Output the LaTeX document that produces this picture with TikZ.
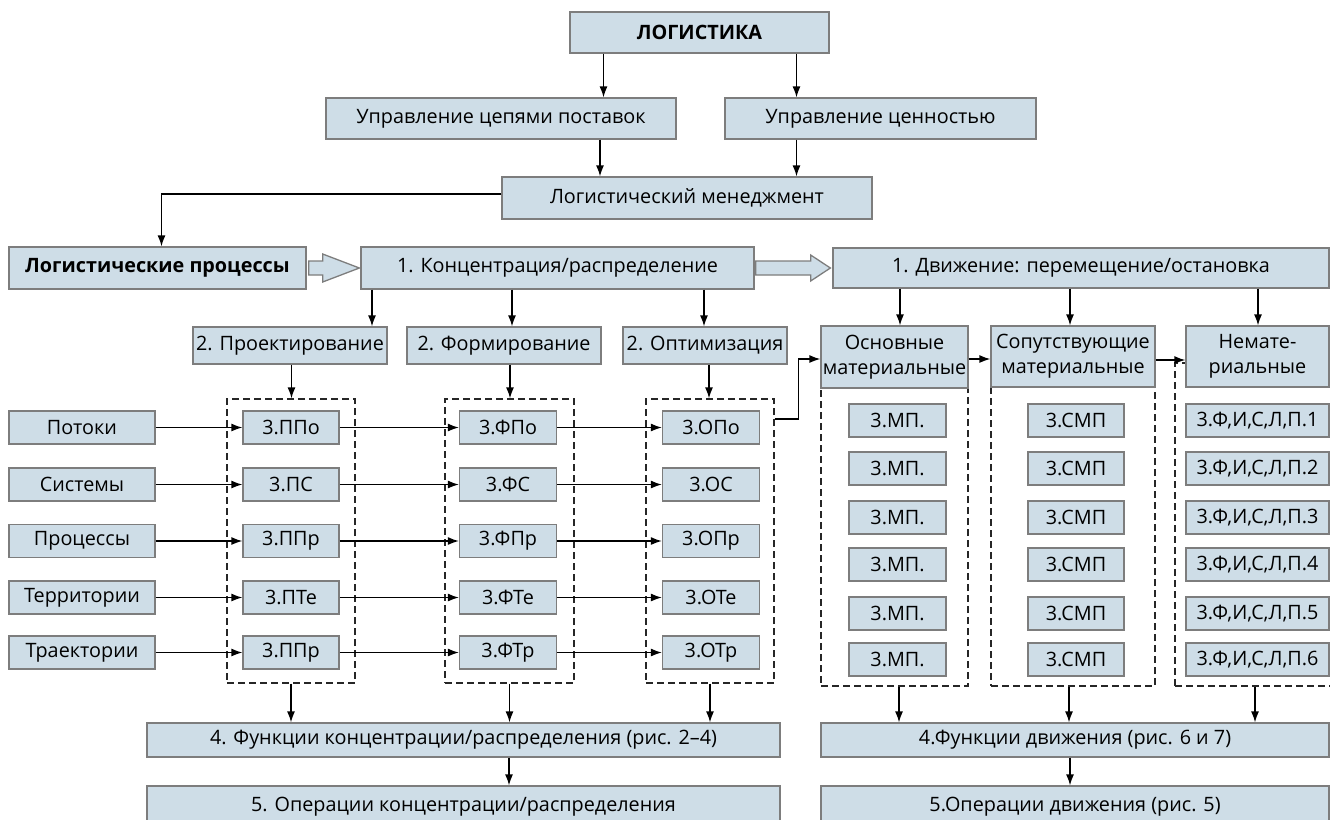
\documentclass[tikz,border=0pt]{standalone}
\usepackage{fontspec}
\setmainfont{Open Sans}
\usetikzlibrary{arrows.meta}
\definecolor{boxc}{RGB}{206,221,231}
\definecolor{bordc}{RGB}{125,125,125}
\tikzset{
  box/.style={draw=bordc, fill=boxc, line width=1.3pt, inner sep=0pt, text=black,
    font=\fontsize{19.8}{25}\selectfont, align=center},
  dbox/.style={draw=black!85, dash pattern=on 7pt off 4pt, line width=1.3pt, inner sep=0pt},
  arr/.style={draw=black, line width=1.3pt, -{Latex[length=11pt,width=8pt]}},
  blk/.style={draw=bordc, fill=boxc, line width=1.3pt, line join=miter},
}
\begin{document}
\begin{tikzpicture}[x=1pt,y=-1pt]
\clip (0,0) rectangle (1330,819);
\fill[white] (0,0) rectangle (1330,819);
% dashed groups
\node[dbox, minimum width=128, minimum height=284] (d1) at (291,541) {};
\node[dbox, minimum width=129, minimum height=284] (d2) at (509.5,541) {};
\node[dbox, minimum width=128, minimum height=284] (d3) at (710,541) {};
\node[dbox, minimum width=147, minimum height=298] (dr1) at (894.5,537) {};
\node[dbox, minimum width=164, minimum height=299] (dr2) at (1073,536.5) {};
\node[dbox, minimum width=170, minimum height=323] (dr3) at (1260,524.5) {};
% top boxes
\node[box, minimum width=259, minimum height=41, font=\fontsize{19.8}{25}\selectfont\bfseries] (log) at (699.5,32.5) {ЛОГИСТИКА};
\node[box, minimum width=350, minimum height=41] (scm) at (501,118.5) {Управление цепями поставок};
\node[box, minimum width=311, minimum height=41] (val) at (880.5,118.5) {Управление ценностью};
\node[box, minimum width=370, minimum height=42] (lm) at (687,198) {Логистический менеджмент};
\node[box, minimum width=297, minimum height=42, font=\fontsize{19.8}{25}\selectfont\bfseries] (lp) at (157.5,268) {Логистические процессы};
\node[box, minimum width=393, minimum height=42] (conc) at (557.5,268) {1. Концентрация/распределение};
\node[box, minimum width=496, minimum height=40] (dv) at (1081,268) {1. Движение: перемещение/остановка};
% level 2
\node[box, minimum width=194, minimum height=37] (pr) at (290,345.5) {2. Проектирование};
\node[box, minimum width=194, minimum height=37] (fo) at (504,345.5) {2. Формирование};
\node[box, minimum width=164, minimum height=37] (op) at (705,345.5) {2. Оптимизация};
\node[box, minimum width=147, minimum height=62] (osn) at (894.5,357) {Основные\\материальные};
\node[box, minimum width=164, minimum height=61] (sop) at (1073,356.5) {Сопутствующие\\материальные};
\node[box, minimum width=143, minimum height=61] (nem) at (1257.5,356.5) {Немате-\\риальные};
% rows left
\foreach \i/\y/\a/\p/\f/\o in {1/427.5/Потоки/3.ППо/3.ФПо/3.ОПо,
                             2/484.5/Системы/3.ПС/3.ФС/3.ОС,
                             3/541/Процессы/3.ППр/3.ФПр/3.ОПр,
                             4/597.5/Территории/3.ПТе/3.ФТе/3.ОТе,
                             5/652.5/Траектории/3.ППр/3.ФТр/3.ОТр}{
  \node[box, minimum width=146, minimum height=33] (L\i) at (82,\y) {\a};
  \node[box, minimum width=96, minimum height=33] (P\i) at (291,\y) {\p};
  \node[box, minimum width=97, minimum height=33] (F\i) at (508,\y) {\f};
  \node[box, minimum width=97, minimum height=33] (O\i) at (711,\y) {\o};
}
% rows right
\foreach \i/\y in {1/420.5,2/468.5,3/517.5,4/564.5,5/613.5,6/659.5}{
  \node[box, minimum width=97, minimum height=33] (M\i) at (897.5,\y) {3.МП.};
  \node[box, minimum width=96, minimum height=33] (S\i) at (1076,\y) {3.СМП};
  \node[box, minimum width=143, minimum height=33] (N\i) at (1257.5,\y) {3.Ф,И,С,Л,П.\i};
}
% bottom
\node[box, minimum width=633, minimum height=34] (f4l) at (463.5,740) {4. Функции концентрации/распределения (рис. 2–4)};
\node[box, minimum width=633, minimum height=42] (f5l) at (463.5,807) {5. Операции концентрации/распределения};
\node[box, minimum width=508, minimum height=34] (f4r) at (1075,740) {4.Функции движения (рис. 6 и 7)};
\node[box, minimum width=508, minimum height=42] (f5r) at (1075,807) {5.Операции движения (рис. 5)};
% connectors
\draw[arr] ([xshift=-96]log.south) -- ([xshift=-96]log.south |- scm.north);
\draw[arr] ([xshift=97]log.south) -- ([xshift=97]log.south |- val.north);
\draw[arr] ([xshift=99]scm.south) -- ([xshift=99]scm.south |- lm.north);
\draw[arr] ([xshift=-84]val.south) -- ([xshift=-84]val.south |- lm.north);
\draw[arr] ([yshift=4]lm.west) -| ([xshift=4]lp.north);
\draw[blk] ([shift={(2,-7)}]lp.east) -- ([shift={(16,-7)}]lp.east) -- ([shift={(16,-14)}]lp.east)
  -- ([shift={(-1,0)}]conc.west) -- ([shift={(16,14)}]lp.east) -- ([shift={(16,7)}]lp.east)
  -- ([shift={(2,7)}]lp.east) -- cycle;
\draw[blk] ([shift={(1,-7)}]conc.east) -- ([shift={(56,-7)}]conc.east) -- ([shift={(56,-13)}]conc.east)
  -- ([shift={(-2,0)}]dv.west) -- ([shift={(56,13)}]conc.east) -- ([shift={(56,7)}]conc.east)
  -- ([shift={(1,7)}]conc.east) -- cycle;
\draw[arr] ([xshift=-185.5]conc.south) -- ([xshift=-185.5]conc.south |- pr.north);
\draw[arr] ([xshift=-45.5]conc.south) -- ([xshift=-45.5]conc.south |- fo.north);
\draw[arr] ([xshift=146.5]conc.south) -- ([xshift=146.5]conc.south |- op.north);
\draw[arr] ([xshift=1.5]pr.south) -- ([xshift=1.5]pr.south |- d1.north);
\draw[arr] ([xshift=6]fo.south) -- ([xshift=6]fo.south |- d2.north);
\draw[arr] ([xshift=4]op.south) -- ([xshift=4]op.south |- d3.north);
\foreach \i in {1,...,5}{
  \draw[arr] (L\i.east) -- (P\i.west);
  \draw[arr] (P\i.east) -- (F\i.west);
  \draw[arr] (F\i.east) -- (O\i.west);
}
\draw[arr] ([yshift=122]d3.east) -- ++(24,0) |- ([yshift=-2]osn.west);
\draw[arr] ([xshift=-181]dv.south) -- ([xshift=-181]dv.south |- osn.north);
\draw[arr] ([xshift=-11]dv.south) -- ([xshift=-11]dv.south |- sop.north);
\draw[arr] ([xshift=177]dv.south) -- ([xshift=177]dv.south |- nem.north);
\draw[arr] ([yshift=-2]osn.east) -- ([yshift=-2]osn.east -| sop.west);
\draw[arr] ([yshift=-3.5]sop.east) -- ([yshift=-3.5]sop.east -| nem.west);
\draw[arr] (d1.south) -- (d1.south |- f4l.north);
\draw[arr] (d2.south) -- (d2.south |- f4l.north);
\draw[arr] (d3.south) -- (d3.south |- f4l.north);
\draw[arr] ([xshift=45.5]f4l.south) -- ([xshift=45.5]f4l.south |- f5l.north);
\draw[arr] ([xshift=4.5]dr1.south) -- ([xshift=4.5]dr1.south |- f4r.north);
\draw[arr] ([xshift=-4]dr2.south) -- ([xshift=-4]dr2.south |- f4r.north);
\draw[arr] ([xshift=-5]dr3.south) -- ([xshift=-5]dr3.south |- f4r.north);
\draw[arr] ([xshift=-5]f4r.south) -- ([xshift=-5]f4r.south |- f5r.north);
\end{tikzpicture}
\end{document}
